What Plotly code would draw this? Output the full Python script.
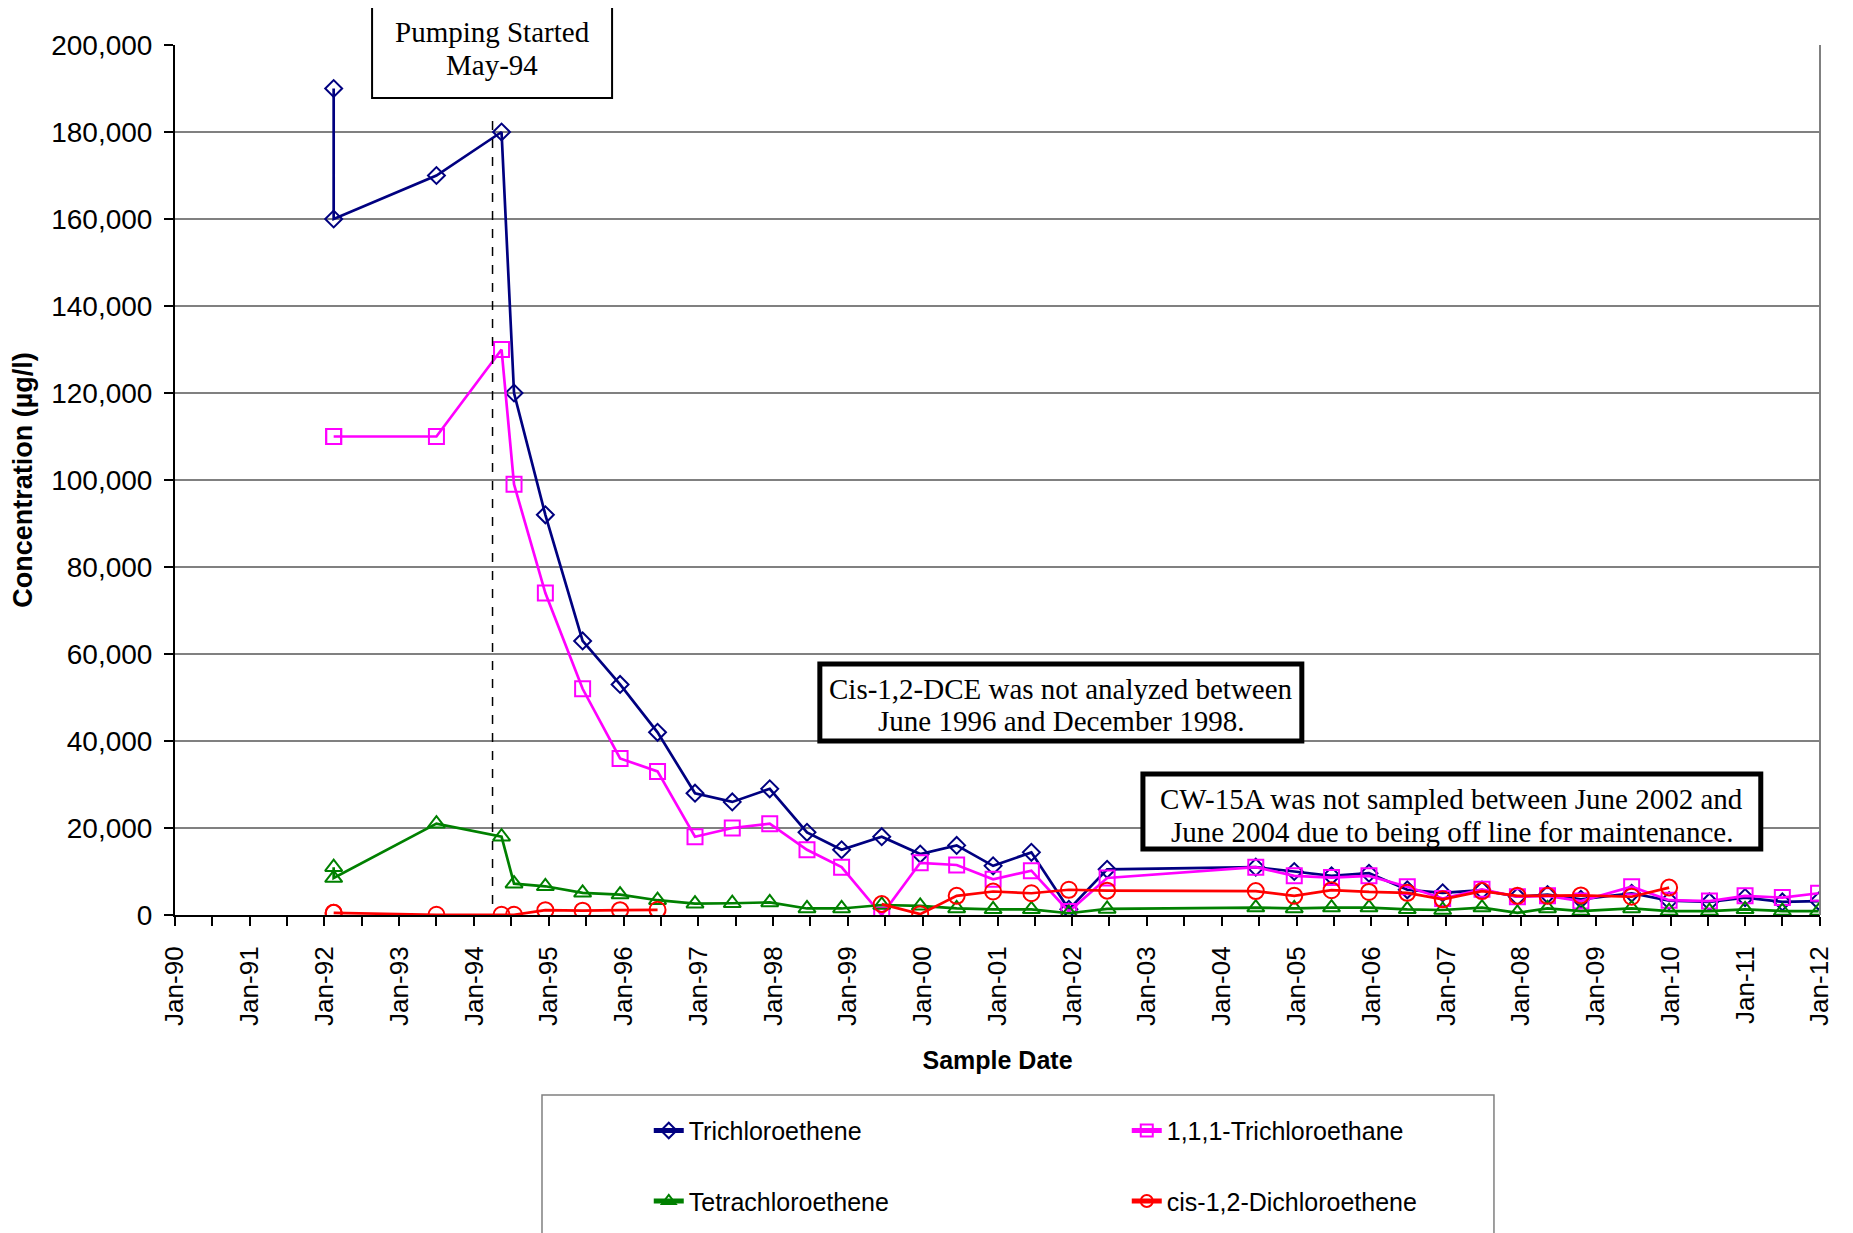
import plotly.graph_objects as go

# ---------------- data ----------------
sample_dates = [
    "1992-02-15", "1992-02-15", "1993-07-01", "1994-05-15", "1994-07-15",
    "1994-12-15", "1995-06-15", "1995-12-15", "1996-06-15", "1996-12-15",
    "1997-06-15", "1997-12-15", "1998-06-15", "1998-12-01", "1999-06-15",
    "1999-12-20", "2000-06-15", "2000-12-10", "2001-06-15", "2001-12-15",
    "2002-06-20", "2004-06-15", "2004-12-20", "2005-06-20", "2005-12-20",
    "2006-06-25", "2006-12-15", "2007-06-25", "2007-12-15", "2008-05-10",
    "2008-10-20", "2009-06-25", "2009-12-25", "2010-07-10", "2010-12-31",
    "2011-07-01", "2011-12-25",
]

tce = [190000, 160000, 170000, 180000, 120000, 92000, 63000, 53000, 42000, 28000,
       26000, 29000, 19000, 15000, 18000, 14000, 16000, 11300, 14400, 1300,
       10500, 11000, 10000, 9000, 9600, 5800, 5100, 5700, 4200, 4700,
       3600, 5000, 3300, 3000, 4000, 3000, 3200]

tca = [110000, 110000, 110000, 130000, 99000, 74000, 52000, 36000, 33000, 18000,
       20000, 21000, 15000, 11000, 0, 12000, 11500, 8200, 10200, 800,
       8500, 11000, 9000, 8600, 9000, 6500, 3800, 5900, 4200, 4400,
       3200, 6500, 3400, 3200, 4400, 4000, 5000]

pce = [11000, 8500, 21000, 18000, 7200, 6600, 5100, 4700, 3400, 2600,
       2700, 2900, 1500, 1500, 2300, 2100, 1500, 1300, 1300, 400,
       1400, 1700, 1500, 1700, 1700, 1300, 1150, 1700, 500, 1500,
       900, 1500, 900, 900, 1300, 900, 900]

dce = [500, 500, 50, 50, 50, 1100, 1000, 1100, 1200, None,
       None, None, None, None, 2500, 200, 4400, 5400, 5000, 5800,
       5600, 5500, 4400, 5700, 5300, 5100, 3600, 5500, 4400, 4400,
       4500, 4200, 6300, None, None, None, None]

series_names = ["Trichloroethene", "1,1,1-Trichloroethane",
                "Tetrachloroethene", "cis-1,2-Dichloroethene"]

pumping_date = "1994-04-01"
pumping_line_range = [2500, 184000]

box_lines = [
    ["Pumping Started", "May-94"],
    ["Cis-1,2-DCE was not analyzed between", "June 1996 and December 1998."],
    ["CW-15A was not sampled between June 2002 and",
     "June 2004 due to being off line for maintenance."],
]

# ---------------- figure ----------------
SANS = "Liberation Sans, Arial, sans-serif"
SERIF = "Liberation Serif, Times New Roman, serif"

styles = [
    dict(color="#000080", symbol="diamond-open", size=13, legend="legend"),
    dict(color="#FF00FF", symbol="square-open", size=15, legend="legend"),
    dict(color="#008000", symbol="triangle-up-open", size=15, legend="legend2"),
    dict(color="#FF0000", symbol="circle-open", size=16, legend="legend2"),
]

fig = go.Figure()
for name, vals, st in zip(series_names, [tce, tca, pce, dce], styles):
    fig.add_trace(go.Scatter(
        x=sample_dates, y=vals, name=name, mode="lines+markers",
        line=dict(color=st["color"], width=2.7),
        marker=dict(symbol=st["symbol"], size=st["size"], color=st["color"],
                    line=dict(color=st["color"], width=2)),
        connectgaps=False, legend=st["legend"],
    ))

# dashed pumping line
fig.add_shape(type="line", xref="x", yref="y",
              x0=pumping_date, x1=pumping_date,
              y0=pumping_line_range[0], y1=pumping_line_range[1],
              line=dict(color="black", width=1.5, dash="dash"))

# right frame line
fig.add_shape(type="line", xref="paper", yref="paper", x0=1, x1=1, y0=0, y1=1,
              line=dict(color="#808080", width=2))

# annotation boxes (paper coords)
boxes = [
    dict(x0=0.1198, x1=0.2657, y0=0.939, y1=1.0437, bw=2, ly=[1.0149, 0.977]),
    dict(x0=0.392, x1=0.685, y0=0.200, y1=0.2885, bw=5, ly=[0.2598, 0.223]),
    dict(x0=0.5884, x1=0.964, y0=0.0759, y1=0.162, bw=5, ly=[0.1333, 0.0954]),
]
for b, lines in zip(boxes, box_lines):
    fig.add_shape(type="rect", xref="paper", yref="paper",
                  x0=b["x0"], x1=b["x1"], y0=b["y0"], y1=b["y1"],
                  fillcolor="white", line=dict(color="black", width=b["bw"]),
                  layer="above")
    for txt, yy in zip(lines, b["ly"]):
        fig.add_annotation(xref="paper", yref="paper",
                           x=(b["x0"] + b["x1"]) / 2, y=yy,
                           xanchor="center", yanchor="middle",
                           text=txt, showarrow=False, align="center",
                           font=dict(family=SERIF, size=29, color="black"))

# legend border
fig.add_shape(type="rect", xref="paper", yref="paper",
              x0=0.2231, x1=0.8018, y0=-0.40, y1=-0.2069,
              line=dict(color="#808080", width=1.5), fillcolor="rgba(0,0,0,0)")

legend_common = dict(orientation="h", xanchor="left", yanchor="middle",
                     entrywidth=433, entrywidthmode="pixels",
                     font=dict(family=SANS, size=25, color="black"),
                     bgcolor="rgba(0,0,0,0)", borderwidth=0,
                     itemsizing="constant")

fig.update_layout(
    width=1845, height=1225,
    margin=dict(l=167, r=33, t=37, b=318, autoexpand=False),
    plot_bgcolor="white", paper_bgcolor="white",
    font=dict(family=SANS, color="black"),
    legend=dict(x=0.288, y=-0.248, **legend_common),
    legend2=dict(x=0.288, y=-0.329, **legend_common),
    xaxis=dict(
        type="date", range=["1990-01-01", "2012-01-01"],
        tick0="1990-01-01", dtick="M12", tickformat="%b-%y",
        tickangle=-90, ticks="outside", ticklen=9, tickwidth=1.5, tickcolor="black",
        minor=dict(dtick="M6", ticks="outside", ticklen=9, tickwidth=1.5, tickcolor="black"),
        showline=True, linecolor="black", linewidth=2,
        showgrid=False, zeroline=False,
        ticklabelstandoff=10,
        tickfont=dict(family=SANS, size=26, color="black"),
        title=dict(text="<b>Sample Date</b>", standoff=27,
                   font=dict(family=SANS, size=25, color="black")),
        automargin=False,
    ),
    yaxis=dict(
        range=[0, 200000], dtick=20000, tickformat=",d",
        ticks="outside", ticklen=9, tickwidth=1.5, tickcolor="black",
        showline=True, linecolor="black", linewidth=2,
        showgrid=True, gridcolor="#808080", gridwidth=1.5, zeroline=False,
        ticklabelstandoff=6,
        tickfont=dict(family=SANS, size=28, color="black"),
        title=dict(text="<b>Concentration (µg/l)</b>", standoff=18,
                   font=dict(family=SANS, size=27, color="black")),
        automargin=False,
    ),
)

fig.write_html("out.html")
